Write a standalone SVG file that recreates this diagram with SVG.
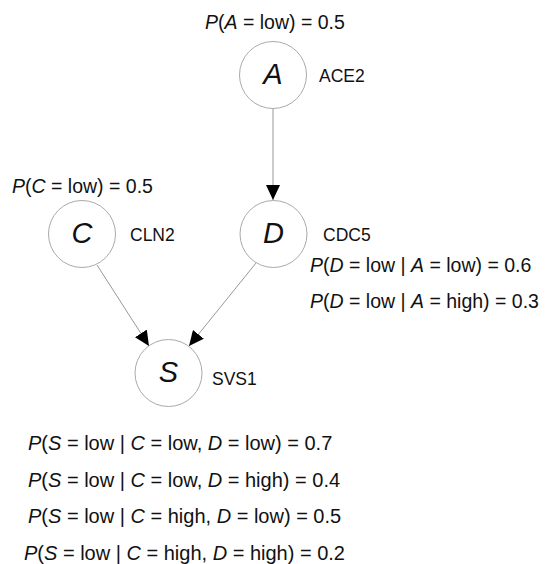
<svg xmlns="http://www.w3.org/2000/svg" width="545" height="564" viewBox="0 0 545 564">
<defs>
<style>
text{font-family:"Liberation Sans",Arial,sans-serif;fill:#111}
.t{font-size:19.5px}
.b{font-size:20px}
.g{font-size:17.5px}
.n{font-size:29px;font-style:italic;text-anchor:middle}
.i{font-style:italic}
circle{fill:#fff;stroke:#aaa;stroke-width:1}
.e{stroke:#999;stroke-width:1;fill:none}
</style>
<marker id="ar" viewBox="0 0 15 14" refX="15" refY="7" markerWidth="15" markerHeight="14" markerUnits="userSpaceOnUse" orient="auto">
<path d="M0,0 L15,7 L0,14 z" fill="#000"/>
</marker>
</defs>
<g id="edges">
<line class="e" x1="273" y1="109" x2="273" y2="200" marker-end="url(#ar)"/>
<line class="e" x1="97" y1="265" x2="149" y2="346" marker-end="url(#ar)"/>
<line class="e" x1="256" y1="263" x2="189" y2="346" marker-end="url(#ar)"/>
</g>
<g id="A">
<text class="t" x="205" y="29"><tspan class="i">P</tspan>(<tspan class="i">A</tspan> = low) = 0.5</text>
<circle cx="273" cy="75" r="33.5"/>
<text class="n" x="273" y="84">A</text>
<text class="g" x="319" y="82">ACE2</text>
</g>
<g id="C">
<text class="t" x="12" y="193"><tspan class="i">P</tspan>(<tspan class="i">C</tspan> = low) = 0.5</text>
<circle cx="82" cy="234" r="33.5"/>
<text class="n" x="82" y="243">C</text>
<text class="g" x="130" y="241">CLN2</text>
</g>
<g id="D">
<circle cx="273.5" cy="234" r="33.5"/>
<text class="n" x="273.5" y="243">D</text>
<text class="g" x="323" y="241">CDC5</text>
<text class="t" x="310" y="272"><tspan class="i">P</tspan>(<tspan class="i">D</tspan> = low | <tspan class="i">A</tspan> = low) = 0.6</text>
<text class="t" x="310" y="308"><tspan class="i">P</tspan>(<tspan class="i">D</tspan> = low | <tspan class="i">A</tspan> = high) = 0.3</text>
</g>
<g id="S">
<circle cx="168.5" cy="373" r="33.5"/>
<text class="n" x="168.5" y="382">S</text>
<text class="g" x="212" y="385">SVS1</text>
<text class="b" x="28" y="450"><tspan class="i">P</tspan>(<tspan class="i">S</tspan> = low | <tspan class="i">C</tspan> = low, <tspan class="i">D</tspan> = low) = 0.7</text>
<text class="b" x="28" y="486.5"><tspan class="i">P</tspan>(<tspan class="i">S</tspan> = low | <tspan class="i">C</tspan> = low, <tspan class="i">D</tspan> = high) = 0.4</text>
<text class="b" x="28" y="523"><tspan class="i">P</tspan>(<tspan class="i">S</tspan> = low | <tspan class="i">C</tspan> = high, <tspan class="i">D</tspan> = low) = 0.5</text>
<text class="b" x="24" y="559.5"><tspan class="i">P</tspan>(<tspan class="i">S</tspan> = low | <tspan class="i">C</tspan> = high, <tspan class="i">D</tspan> = high) = 0.2</text>
</g>
</svg>
